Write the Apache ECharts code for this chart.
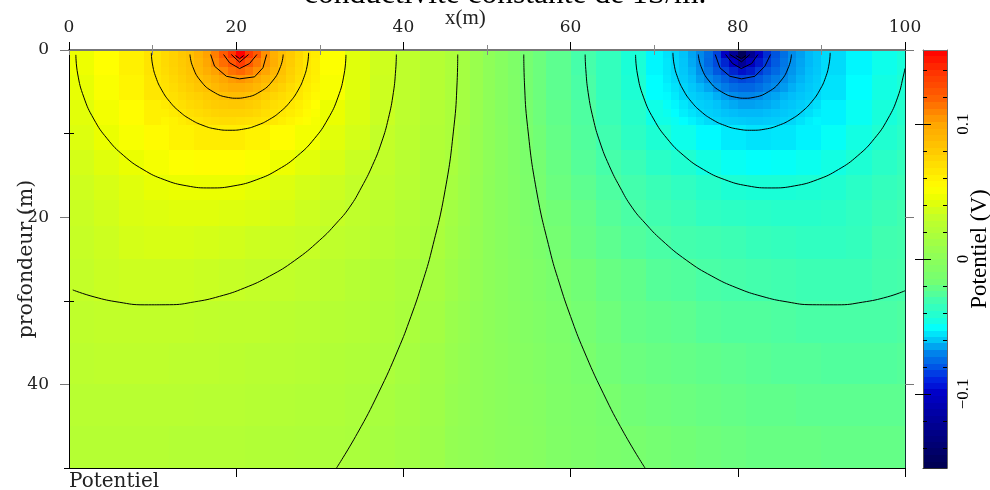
<!DOCTYPE html>
<html><head><meta charset="utf-8">
<style>html,body{margin:0;padding:0;background:#fff}#c{width:990px;height:490px}</style>
<script src="https://cdn.jsdelivr.net/npm/echarts@6/dist/echarts.min.js"></script>
</head><body><div id="c"></div>
<script>
const titleText = 'conductivité constante de 1S/m.';
const xTicks = [0,20,40,60,80,100];
const xMinorTicks = [10,30,50,70,90];
const depthTicks = [0,20,40];
const depthMinorTicks = [10,30,50];
const barMinorTicks = [-0.14,-0.12,-0.08,-0.06,-0.04,-0.02,0.02,0.04,0.06,0.08,0.12,0.14];
const barMajorTicks = [-0.1,0,0.1];

const coarseXEdges = [0,3,6,9,12,15,18,21,24,27,30,33,36,39,42,45,48,51,54,57,60,63,66,69,72,75,78,81,84,87,90,93,96,99,100];
const coarseDepthEdges = [0,3,6,9,12,15,18,21,25,30,35,40,45,50];
const coarseMv = [
[46,53,60,67,80,95,125,98,85,65,52,41,35,28,23,17,4,-9,-19,-25,-31,-37,-45,-57,-72,-90,-108,-114,-89,-75,-64,-57,-50,-46],
[44,51,58,65,75,85,92,88,80,63,50,41,34,28,23,17,4,-9,-19,-25,-30,-37,-44,-55,-69,-83,-89,-89,-81,-71,-62,-55,-48,-44],
[42,48,54,60,66,71,76,74,66,55,45,39,33,27,22,16,4,-8,-18,-24,-29,-35,-41,-49,-59,-69,-75,-74,-69,-64,-58,-52,-46,-42],
[40,45,50,55,59,62,62,59,54,48,42,37,31,26,21,15,4,-8,-17,-23,-28,-33,-39,-44,-50,-56,-60,-62,-61,-58,-53,-48,-43,-40],
[37,41,45,49,52,54,54,51,46,42,38,33,30,25,20,14,3,-7,-16,-22,-27,-31,-35,-40,-43,-48,-52,-54,-53,-51,-48,-44,-40,-37],
[35,38,41,44,45,45,45,43,40,37,34,31,28,24,20,12,3,-6,-15,-21,-25,-29,-32,-35,-38,-41,-44,-45,-45,-44,-43,-40,-37,-35],
[33,36,39,40,41,41,40,39,37,34,32,29,26,22,18,11,3,-6,-14,-19,-23,-27,-30,-33,-35,-38,-39,-40,-41,-41,-40,-38,-35,-33],
[32,34,37,38,38,37,36,34,33,32,29,27,24,21,17,10,3,-5,-13,-18,-22,-25,-28,-30,-32,-33,-34,-36,-37,-38,-38,-37,-33,-32],
[31,33,34,34,34,33,32,31,30,28,26,23,21,18,15,9,2,-4,-12,-16,-19,-22,-24,-27,-28,-30,-31,-32,-33,-34,-34,-34,-32,-31],
[29,30,30,30,30,29,28,28,26,25,23,22,20,17,13,8,2,-4,-10,-14,-18,-20,-23,-24,-25,-27,-28,-28,-29,-30,-30,-30,-30,-29],
[27,28,28,28,27,27,26,25,24,23,21,20,18,15,11,7,2,-4,-9,-12,-16,-19,-21,-22,-23,-24,-25,-26,-27,-27,-28,-28,-28,-27],
[25,25,25,25,25,24,24,23,22,21,20,18,16,13,10,6,2,-3,-8,-11,-14,-17,-19,-20,-21,-22,-23,-24,-24,-25,-25,-25,-25,-25],
[23,23,23,23,22,22,22,21,20,19,18,17,14,12,9,6,2,-3,-7,-10,-13,-15,-17,-18,-19,-20,-21,-22,-22,-22,-23,-23,-23,-23]
];

// Finer cells across the middle of the section, same depth rows as coarseDepthEdges
const middleXEdges = [45,46.5,48,49.5,51,52.5,54,55.5,57];
const middleMv = [
[18.4,13.8,7.4,1,-5.3,-11.7,-17.7,-20.5],
[18,13.5,7.3,1,-5.2,-11.4,-17.5,-20.5],
[17.8,12.8,6.9,1,-4.9,-10.9,-16.8,-20],
[17.6,12,6.5,.9,-4.6,-10.2,-15.7,-19],
[16.2,11,6,.9,-4.3,-9.4,-14.5,-18],
[14.7,10,5.4,.8,-3.9,-8.5,-13.2,-17.4],
[13.3,9.1,4.9,.7,-3.5,-7.7,-11.9,-16],
[11.7,8,4.3,.6,-3.1,-6.8,-10.5,-14.1],
[10,6.8,3.7,.5,-2.6,-5.8,-8.9,-12.1],
[8.2,5.6,3,.4,-2.2,-4.8,-7.4,-9.9],
[6.8,4.6,2.5,.4,-1.8,-3.9,-6.1,-8.2],
[5.7,3.9,2.1,.3,-1.5,-3.3,-5.1,-6.9],
[4.8,3.3,1.8,.3,-1.3,-2.8,-4.3,-5.8]
];

// One metre cells around the positive electrode, x from 11 to 30, depth from 0 to 9
const fineLeftX0 = 11;
const fineLeftMv = [
[72,76,81,85,93,101,111,122,137,155,135,122,106,94,86,80,73,66,62],
[72,76,80,84,91,99,108,116,124,135,123,113,104,95,85,79,72,65,61],
[71,75,79,83,89,95,101,108,115,118,113,106,100,91,84,77,71,65,61],
[69,73,77,81,85,89,94,99,103,105,102,97,91,86,81,75,69,64,60],
[68,71,75,78,82,85,89,93,96,96,94,90,85,80,76,71,66,62,58],
[66,69,72,75,77,80,82,85,87,87,85,82,78,74,71,68,65,60,56],
[63,66,69,72,74,77,79,80,81,81,79,77,73,70,68,65,61,57,53],
[60,63,66,69,71,73,75,76,76,76,75,73,70,68,65,62,59,55,51],
[57,59,62,65,67,69,70,71,71,70,69,68,66,64,61,58,55,52,49]
];
// One metre cells around the negative electrode, x from 71 to 90, depth from 0 to 9
const fineRightX0 = 71;
const fineRightMv = [
[-62,-66,-73,-80,-86,-94,-106,-122,-135,-155,-137,-122,-111,-101,-93,-85,-81,-76,-72],
[-61,-65,-72,-79,-85,-95,-104,-113,-123,-135,-124,-116,-108,-99,-91,-84,-80,-76,-72],
[-61,-65,-71,-77,-84,-91,-100,-106,-113,-118,-115,-108,-101,-95,-89,-83,-79,-75,-71],
[-60,-64,-69,-75,-81,-86,-91,-97,-102,-105,-103,-99,-94,-89,-85,-81,-77,-73,-69],
[-58,-62,-66,-71,-76,-80,-85,-90,-94,-96,-96,-93,-89,-85,-82,-78,-75,-71,-68],
[-56,-60,-65,-68,-71,-74,-78,-82,-85,-87,-87,-85,-82,-80,-77,-75,-72,-69,-66],
[-53,-57,-61,-65,-68,-70,-73,-77,-79,-81,-81,-80,-79,-77,-74,-72,-69,-66,-63],
[-51,-55,-59,-62,-65,-68,-70,-73,-75,-76,-76,-76,-75,-73,-71,-69,-66,-63,-60],
[-49,-52,-55,-58,-61,-64,-66,-68,-69,-70,-71,-71,-70,-69,-67,-65,-62,-59,-57]
];

// Colour bar steps in mV
const barLevelsMv = [-153,-148,-143,-138,-133,-129,-124,-119,-114,-109,-104,-99,-94,-90,-85,-80,-75,-70,-65,-60,-56,-51,-46,-41,-36,-31,-26,-22,-17,-12,-7,-2,2,7,12,17,22,26,31,36,41,46,51,56,60,65,70,75,80,85,90,94,99,104,109,114,119,124,129,133,138,143,148,153];
const barLimitV = 0.155;

// Colour ramps: mV, r, g, b
const positiveRamp = [[0,140,255,90],[17,170,255,60],[31,195,255,40],[45,235,255,0],[53,255,255,0],[81,255,200,0],[100,255,165,0],[120,255,95,0],[139,255,50,0],[155,255,0,0]];
const barNegativeRamp = [[-155,0,0,80],[-121,0,0,150],[-99,0,0,200],[-91,0,30,225],[-79,0,90,230],[-70,0,130,235],[-60,0,200,245],[-52,0,255,255],[-45,25,255,220],[-31,65,255,175],[-17,115,255,115]];
const fieldNegativeRamp = [[-155,0,0,90],[-135,0,0,150],[-122,0,0,195],[-105,0,70,220],[-85,0,140,235],[-75,0,190,250],[-65,0,215,250],[-55,0,255,255],[-45,25,255,215],[-31,70,255,170],[-23,100,255,135],[-17,120,255,110]];
const barRamp = barNegativeRamp.concat(positiveRamp);
const fieldRamp = fieldNegativeRamp.concat(positiveRamp);

// Contours, [x, depth] in metres
const contoursSmooth = [
[[46.50,.54],[46.42,3.93],[46.05,9.13],[45.00,16.71],[43.40,23.89],[42.25,27.88],[40.90,31.88],[39.35,35.87],[37.00,41.05],[34.50,45.84],[32.00,50]],
[[54.40,.54],[54.48,3.93],[54.85,9.13],[55.90,16.71],[57.50,23.89],[58.65,27.88],[60.00,31.88],[61.55,35.87],[63.90,41.05],[66.40,45.84],[68.90,50]],
[[.45,28.7],[3,29.53],[6,30.17],[9,30.48],[12,30.47],[15,30.13],[18,29.47],[21,28.46],[24,27.05],[27,25.18],[30,22.74],[32,20.7],[33.57,18.8],[35,16.4],[36.3,13.8],[37.4,11],[38.2,8.2],[38.8,5.1],[39.08,2.34],[39.16,.54]],
[[61.74,.54],[61.82,2.34],[62.1,5.1],[62.7,8.2],[63.5,11],[64.6,13.8],[65.9,16.4],[67.33,18.8],[68.9,20.7],[70.9,22.74],[73.9,25.18],[76.9,27.05],[79.9,28.46],[82.9,29.47],[85.9,30.13],[88.9,30.47],[91.9,30.48],[94.9,30.17],[97.9,29.53],[100,28.8]],
[[.82,.58],[1.04,2.87],[1.77,5.64],[2.96,8.25],[4.57,10.61],[6.55,12.64],[8.85,14.29],[11.39,15.51],[14.1,16.25],[16.9,16.5],[19.73,16.25],[22.46,15.51],[25.03,14.29],[27.35,12.64],[29.35,10.61],[30.97,8.25],[32.18,5.64],[32.91,2.87],[33.13,.58]],
[[67.77,.58],[67.99,2.87],[68.72,5.64],[69.93,8.25],[71.55,10.61],[73.55,12.64],[75.87,14.29],[78.44,15.51],[81.17,16.25],[84,16.5],[86.8,16.25],[89.51,15.51],[92.05,14.29],[94.35,12.64],[96.33,10.61],[97.94,8.25],[99.13,5.64],[99.86,2.87],[100,2.2]],
[[9.85,.34],[9.98,1.67],[10.4,3.28],[11.1,4.8],[12.04,6.17],[13.2,7.35],[14.55,8.31],[16.03,9.02],[17.61,9.46],[19.25,9.6],[20.89,9.46],[22.47,9.02],[23.96,8.31],[25.31,7.35],[26.47,6.17],[27.41,4.8],[28.1,3.28],[28.53,1.67],[28.66,.34]],
[[72.24,.34],[72.37,1.67],[72.8,3.28],[73.49,4.8],[74.43,6.17],[75.59,7.35],[76.94,8.31],[78.43,9.02],[80.01,9.46],[81.65,9.6],[83.29,9.46],[84.87,9.02],[86.35,8.31],[87.7,7.35],[88.86,6.17],[89.8,4.8],[90.5,3.28],[90.92,1.67],[91.05,.34]],
[[14.47,.54],[14.79,1.97],[15.76,3.71],[17.25,5],[19.08,5.68],[20.05,5.77],[21.02,5.68],[22.85,5],[24.34,3.71],[25.31,1.97],[25.62,.54]],
[[75.28,.54],[75.6,1.97],[76.57,3.71],[78.05,5],[79.88,5.68],[80.85,5.77],[81.82,5.68],[83.65,5],[85.13,3.71],[86.1,1.97],[86.42,.54]]
];
const contoursAngular = [
[[16.94,.54],[17.41,1.94],[18.82,3.14],[20.41,3.45],[22.20,3.21],[23.20,2.13],[23.64,.54]],
[[77.30,.54],[77.86,2.13],[79.05,3.14],[80.45,3.45],[82.05,3.14],[83.24,1.94],[83.92,.54]],
[[18.49,.54],[19.21,1.53],[20.41,2.22],[21.60,1.62],[22.48,.54]],
[[78.54,.54],[79.38,1.62],[80.41,2.22],[81.65,1.62],[82.41,.54]],
[[19.41,.54],[20.41,1.46],[21.48,.54]],
[[79.05,.54],[80.45,1.41],[81.45,.54]],
[[19.92,.66],[20.41,1.05],[20.89,.66]],
[[79.77,.66],[80.45,1.05],[80.97,.66]]
];

function colourOf(ramp,mv){
  if(mv<=ramp[0][0]) return 'rgb('+ramp[0].slice(1).join(',')+')';
  for(let i=1;i<ramp.length;i++){
    if(mv<=ramp[i][0]){
      const a=ramp[i-1],b=ramp[i],t=(mv-a[0])/(b[0]-a[0]);
      return 'rgb('+[1,2,3].map(k=>Math.round(a[k]+(b[k]-a[k])*t)).join(',')+')';
    }
  }
  return 'rgb(255,0,0)';
}
function cellRenderer(ramp){
  return function(params,api){
    const a=api.coord([api.value(0),api.value(2)]),b=api.coord([api.value(1),api.value(3)]);
    const x0=Math.round(Math.min(a[0],b[0])),x1=Math.round(Math.max(a[0],b[0]));
    const y0=Math.round(Math.min(a[1],b[1])),y1=Math.round(Math.max(a[1],b[1]));
    return {type:'rect',shape:{x:x0,y:y0,width:x1-x0,height:y1-y0},style:{fill:colourOf(ramp,api.value(4))}};
  };
}
const cells=[];
coarseMv.forEach((row,j)=>row.forEach((v,i)=>cells.push([coarseXEdges[i],coarseXEdges[i+1],coarseDepthEdges[j],coarseDepthEdges[j+1],v])));
middleMv.forEach((row,j)=>row.forEach((v,i)=>cells.push([middleXEdges[i],middleXEdges[i+1],coarseDepthEdges[j],coarseDepthEdges[j+1],v])));
fineLeftMv.forEach((row,j)=>row.forEach((v,i)=>cells.push([fineLeftX0+i,fineLeftX0+i+1,j,j+1,v])));
fineRightMv.forEach((row,j)=>row.forEach((v,i)=>cells.push([fineRightX0+i,fineRightX0+i+1,j,j+1,v])));
const barCells=barLevelsMv.map((v,i)=>{
  const lo=i?(barLevelsMv[i-1]+v)/2000:-barLimitV;
  const hi=i<barLevelsMv.length-1?(barLevelsMv[i+1]+v)/2000:barLimitV;
  return [0,1,lo,hi,v];
});

const serif='Liberation Serif', wide='DejaVu Serif';
const tickFont={fontFamily:wide,fontSize:17,color:'#222'};
function tick(values,len,color){return {show:true,customValues:values,length:len,lineStyle:{color:color,width:1}};}
const off={show:false};
const xBase={type:'value',gridIndex:0,min:0,max:100,z:10,splitLine:off};
const yBase={type:'value',gridIndex:0,min:0,max:50,inverse:true,z:10,splitLine:off};
const bBase={type:'value',gridIndex:1,min:-barLimitV,max:barLimitV,z:10,splitLine:off};

const option={
  animation:false,
  backgroundColor:'#fff',
  title:{text:titleText,left:299,top:-26,textStyle:{fontFamily:serif,fontWeight:'normal',fontSize:31.5,color:'#000'}},
  grid:[
    {left:69,top:50,width:836,height:418,outerBoundsMode:'none',containLabel:false},
    {left:923,top:50,width:24,height:418,outerBoundsMode:'none',containLabel:false}
  ],
  xAxis:[
    Object.assign({},xBase,{position:'top',axisLine:{show:true,onZero:false,lineStyle:{color:'#777',width:2}},axisTick:tick(xTicks,8,'#000'),axisLabel:Object.assign({customValues:xTicks,margin:14},tickFont)}),
    Object.assign({},xBase,{position:'top',axisLine:off,axisTick:tick(xMinorTicks,5,'#888'),axisLabel:off}),
    Object.assign({},xBase,{position:'bottom',axisLine:{show:true,onZero:false,lineStyle:{color:'#000',width:1}},axisTick:tick([20,40,60,80,100],9,'#000'),axisLabel:off}),
    Object.assign({},xBase,{position:'bottom',axisLine:off,axisTick:tick([0,10,30,50,70,90],5,'#888'),axisLabel:off}),
    {type:'value',gridIndex:1,min:0,max:1,position:'top',z:10,axisLine:{show:true,onZero:false,lineStyle:{color:'#777',width:1}},axisTick:off,axisLabel:off,splitLine:off},
    {type:'value',gridIndex:1,min:0,max:1,position:'bottom',z:10,axisLine:{show:true,onZero:false,lineStyle:{color:'#333',width:1}},axisTick:off,axisLabel:off,splitLine:off}
  ],
  yAxis:[
    Object.assign({},yBase,{position:'left',name:'profondeur (m)',nameLocation:'middle',nameGap:32,nameMoveOverlap:false,nameTextStyle:{fontFamily:wide,fontSize:20.5,color:'#222'},
      axisLine:{show:true,onZero:false,lineStyle:{color:'#000',width:1}},axisTick:tick(depthTicks,9,'#777'),axisLabel:Object.assign({customValues:depthTicks,margin:20},tickFont)}),
    Object.assign({},yBase,{position:'left',axisLine:off,axisTick:tick(depthMinorTicks,5,'#000'),axisLabel:off}),
    Object.assign({},yBase,{position:'right',axisLine:{show:true,onZero:false,lineStyle:{color:'#103030',width:1}},axisTick:tick(depthTicks,9,'#777'),axisLabel:off}),
    Object.assign({},yBase,{position:'right',axisLine:off,axisTick:tick(depthMinorTicks,5,'#000'),axisLabel:off}),
    Object.assign({},bBase,{position:'left',axisLine:{show:true,onZero:false,lineStyle:{color:'#555',width:1}},axisTick:Object.assign(tick(barMinorTicks,4,'#000'),{inside:true}),axisLabel:off}),
    Object.assign({},bBase,{position:'left',axisLine:off,axisTick:Object.assign(tick(barMajorTicks,8,'#000'),{inside:true}),axisLabel:off}),
    Object.assign({},bBase,{position:'right',axisLine:{show:true,onZero:false,lineStyle:{color:'#666',width:1}},axisTick:Object.assign(tick(barMinorTicks,4,'#000'),{inside:true}),axisLabel:off}),
    Object.assign({},bBase,{position:'right',name:'Potentiel (V)',nameLocation:'middle',nameGap:21,nameMoveOverlap:false,nameRotate:90,nameTextStyle:{fontFamily:serif,fontSize:23,color:'#000',padding:[0,0,0,20]},
      axisLine:off,axisTick:Object.assign(tick(barMajorTicks,8,'#000'),{inside:true}),
      axisLabel:{customValues:barMajorTicks,rotate:90,margin:8,fontFamily:serif,fontSize:17,color:'#000',formatter:v=>v===0?'0':(v<0?'−':'')+Math.abs(v).toFixed(1)}})
  ],
  graphic:[
    {type:'text',left:445,top:8,style:{text:'x(m)',fontFamily:serif,fontSize:21,fill:'#222'}},
    {type:'text',left:69,top:472,style:{text:'Potentiel',fontFamily:wide,fontSize:20,fill:'#222'}}
  ],
  series:[
    {type:'custom',name:'Potentiel',xAxisIndex:0,yAxisIndex:0,coordinateSystem:'cartesian2d',renderItem:cellRenderer(fieldRamp),encode:{x:[0,1],y:[2,3]},data:cells,silent:true,z:1,clip:true,progressive:0},
    {type:'custom',name:'Barre',xAxisIndex:4,yAxisIndex:4,coordinateSystem:'cartesian2d',renderItem:cellRenderer(barRamp),encode:{x:[0,1],y:[2,3]},data:barCells,silent:true,z:1,clip:true,progressive:0}
  ].concat(
    contoursSmooth.map(c=>({type:'line',xAxisIndex:0,yAxisIndex:0,data:c,smooth:0.5,showSymbol:false,symbol:'none',lineStyle:{color:'#000',width:1},silent:true,z:3})),
    contoursAngular.map(c=>({type:'line',xAxisIndex:0,yAxisIndex:0,data:c,smooth:false,showSymbol:false,symbol:'none',lineStyle:{color:'#000',width:1},silent:true,z:3}))
  )
};
echarts.init(document.getElementById('c'),null,{renderer:'canvas'}).setOption(option);
</script>
</body></html>
